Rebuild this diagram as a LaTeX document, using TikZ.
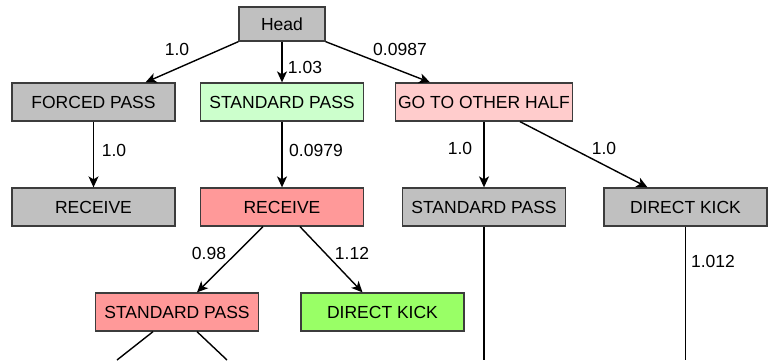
\documentclass[tikz,border=0pt]{standalone}
\usepackage{fontspec}
\setmainfont{Liberation Sans}
\usetikzlibrary{arrows.meta}
\definecolor{boxgray}{RGB}{192,192,192}
\definecolor{palegreen}{RGB}{204,255,204}
\definecolor{palered}{RGB}{255,204,204}
\definecolor{softred}{RGB}{255,153,153}
\definecolor{limegreen}{RGB}{153,255,102}
\definecolor{edgegray}{RGB}{60,60,60}

\begin{document}
\begin{tikzpicture}[
    x=1pt, y=-1pt,
    font=\fontsize{17.5}{20}\selectfont,
    >={Stealth[length=11pt,width=10pt,inset=3pt]},
    line width=1.4pt,
    move/.style={draw=edgegray, line width=1.3pt, minimum width=163pt,
      minimum height=38pt, inner ysep=0pt, inner xsep=2.5pt},
    weight/.style={inner sep=0pt}
  ]
  \useasboundingbox (0,0) rectangle (769,360);

  % tree nodes
  \node[move, fill=boxgray, minimum width=86pt, minimum height=34pt] (head) at (282,24) {Head};
  \node[move, fill=boxgray]   (fpass)  at (93.5,102) {FORCED PASS};
  \node[move, fill=palegreen] (spass)  at (282,102)  {STANDARD PASS};
  \node[move, fill=palered]   (gohalf) at (484,102)  {GO TO OTHER HALF};
  \node[move, fill=boxgray]   (frecv)  at (93.5,207) {RECEIVE};
  \node[move, fill=softred]   (srecv)  at (282,207)  {RECEIVE};
  \node[move, fill=boxgray]   (gpass)  at (484,207)  {STANDARD PASS};
  \node[move, fill=boxgray]   (gkick)  at (685.5,207) {DIRECT KICK};
  \node[move, fill=softred]   (rpass)  at (177,312)  {STANDARD PASS};
  \node[move, fill=limegreen] (rkick)  at (382.5,312) {DIRECT KICK};

  % free ends below the picture
  \coordinate (outl) at (117,360);
  \coordinate (outr) at (227,360);
  \coordinate (outg) at (484,360);
  \coordinate (outk) at (685.5,360);

  % edges
  \draw[->] (head.south west) -- ([xshift=52pt]fpass.north);
  \draw[->] (head) -- (spass);
  \draw[->] (head.south east) -- ([xshift=-54pt]gohalf.north);
  \draw[->] (fpass) -- (frecv);
  \draw[->] (spass) -- (srecv);
  \draw[->] (gohalf) -- (gpass);
  \draw[->] ([xshift=36pt]gohalf.south) -- ([xshift=-38pt]gkick.north);
  \draw[->] ([xshift=-19pt]srecv.south) -- ([xshift=20pt]rpass.north);
  \draw[->] ([xshift=18pt]srecv.south) -- ([xshift=-20pt]rkick.north);
  \draw ([xshift=-24pt]rpass.south) -- (outl);
  \draw ([xshift=20pt]rpass.south) -- (outr);
  \draw (gpass) -- (outg);
  \draw (gkick) -- (outk);

  % weights
  \node[weight] (w1) at (177,49)  {1.0};
  \node[weight] (w2) at (305,67)  {1.03};
  \node[weight] (w3) at (400,49)  {0.0987};
  \node[weight] (w4) at (114,150) {1.0};
  \node[weight] (w5) at (316,150) {0.0979};
  \node[weight] (w6) at (460,148) {1.0};
  \node[weight] (w7) at (604,148) {1.0};
  \node[weight] (w8) at (209,253) {0.98};
  \node[weight] (w9) at (352,253) {1.12};
  \node[weight] (w10) at (713,261) {1.012};
\end{tikzpicture}
\end{document}
